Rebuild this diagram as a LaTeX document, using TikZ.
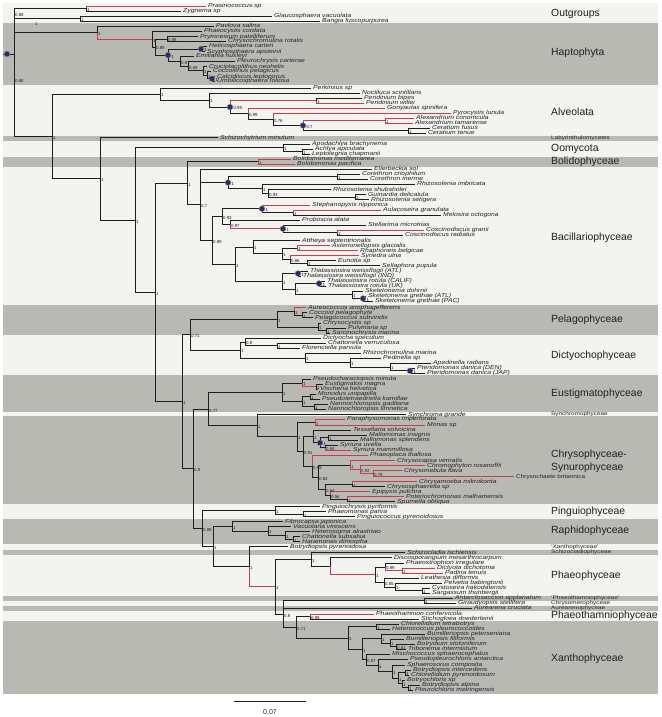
\documentclass[tikz,border=0pt]{standalone}
\usepackage{fontspec}
\setmainfont{Liberation Sans}
\usepackage{graphicx}
\usetikzlibrary{calc}
\definecolor{bglight}{RGB}{243,243,240}
\definecolor{bgdark}{RGB}{185,185,180}
\definecolor{brc}{RGB}{30,30,30}
\definecolor{redbr}{RGB}{200,62,78}
\definecolor{txt}{RGB}{35,35,35}
\definecolor{dotc}{RGB}{42,46,92}
\newcommand\nd[4]{\path let \p1=($(#3)!.5!(#4)$) in coordinate (#1) at (#2pt,\y1);}
\newcommand\Eb[2]{\draw[br] (#1) |- (#2);}
\newcommand\Rd[2]{\draw[rb] (#1) |- (#2);}
\newcommand\bn[4]{\nd{#1}{#2}{#3}{#4}\Eb{#1}{#3}\Eb{#1}{#4}}
\newcommand\lf[5][]{\node[leaf,#1] (#2) at ({#3-1.6},#4) {\scalebox{1}[0.85]{#5}};}
\begin{document}
\begin{tikzpicture}[x=1pt,y=-1pt,
 leaf/.style={anchor=west,inner xsep=1.6pt,inner ysep=0pt,text height=4pt,text depth=1pt,font=\fontsize{6.8}{6.8}\selectfont\itshape,text=txt},
 br/.style={draw=brc,line width=0.95pt},
 rb/.style={draw=redbr,line width=0.95pt},
 sv/.style={anchor=west,inner sep=0.3pt,font=\fontsize{4.4}{4.4}\selectfont,text=txt,yshift=-1.4pt,xshift=0.6pt},
 grp/.style={anchor=west,inner sep=0pt,font=\fontsize{10.4}{12.3}\selectfont,text=black!88},
 sgrp/.style={anchor=west,inner sep=0pt,font=\fontsize{6.4}{6.4}\selectfont,text=black!85},
 bdot/.style={circle,fill=dotc,draw=dotc!55,line width=0.4pt,inner sep=0pt,minimum size=5.8pt}]
\useasboundingbox (0,0) rectangle (661,717);
\fill[white] (0,0) rectangle (661,717);
\fill[bglight] (3,3) rectangle (658,694);
\foreach \a/\b in {23/85,136/141,157/167,305/335,375/412,416/504,519/544,549.5/555,596/601,606/611,621/694}
  \fill[bgdark] (3,\a) rectangle (658,\b);

% ---------- group labels
\node[grp] (gOut) at (551,14) {Outgroups};
\node[grp] (gHap) at (551,53.3) {Haptophyta};
\node[grp] (gAlv) at (551,111.7) {Alveolata};
\node[sgrp] (gLab) at (551,138.2) {\scalebox{1}[0.8]{Labyrinthulomycetes}};
\node[grp] (gOom) at (551,149) {Oomycota};
\node[grp] (gBol) at (551,161.7) {Bolidophyceae};
\node[grp] (gBac) at (551,237.5) {Bacillariophyceae};
\node[grp] (gPel) at (551,320) {Pelagophyceae};
\node[grp] (gDic) at (551,355.7) {Dictyochophyceae};
\node[grp] (gEus) at (551,394) {Eustigmatophyceae};
\node[sgrp] (gSyn) at (551,414.5) {\scalebox{1}[0.8]{Synchromophyceae}};
\node[grp,align=left] (gChr) at (551,461.2) {Chrysophyceae-\\Synurophyceae};
\node[grp] (gPin) at (551,511.7) {Pinguiophyceae};
\node[grp] (gRap) at (551,531) {Raphidophyceae};
\node[sgrp] (gXq) at (551,547.2) {\scalebox{1}[0.8]{`Xanthophyceae'}};
\node[sgrp] (gSch) at (551,552.5) {\scalebox{1}[0.8]{Schizocladiophyceae}};
\node[grp] (gPha) at (551,576) {Phaeophyceae};
\node[sgrp] (gPtq) at (551,598.5) {\scalebox{1}[0.8]{`Phaeothamniophyceae'}};
\node[sgrp] (gChm) at (551,603.5) {\scalebox{1}[0.8]{Chrysomerophyceae}};
\node[sgrp] (gAur) at (551,608.5) {\scalebox{1}[0.8]{Aurearenophyceae}};
\node[grp] (gPht) at (551,616) {Phaeothamniophyceae};
\node[grp] (gXan) at (551,659) {Xanthophyceae};

% ---------- leaves
\lf{prasino}{208}{6}{Prasinococcus sp}
\lf{zygnema}{183}{11}{Zygnema sp}
\lf{glauco}{274}{16}{Glaucosphaera vacuolata}
\lf{bangia}{322}{21}{Bangia fuscopurpurea}
\lf{pavlova}{216}{26}{Pavlova salina}
\lf{phaeoc}{204}{31.5}{Phaeocystis cordata}
\lf{prymne}{200}{36.5}{Prymnesium patelliferum}
\lf{chryso}{228}{41.5}{Chrysochromulina rotalis}
\lf{helico}{209}{46.5}{Helicosphaera carteri}
\lf{scypho}{207}{51.5}{Scyphosphaera apsteinii}
\lf{emilia}{196}{56.5}{Emiliania huxleyi}
\lf{pleuro}{237}{61.5}{Pleurochrysis carterae}
\lf{crucip}{209}{66.5}{Cruciplacolithus neohelis}
\lf{coccol}{213}{71.5}{Coccolithus pelagicus}
\lf{calcid}{217}{76.5}{Calcidiscus leptoporus}
\lf{umbil}{217}{81}{Umbilicosphaera foliosa}
\lf{perk}{313}{88}{Perkinsus sp}
\lf{noct}{362}{93}{Noctiluca scintillans}
\lf{pbipes}{364}{98}{Peridinium bipes}
\lf{pwillei}{366}{103}{Peridinium willei}
\lf{gony}{387}{108}{Gonyaulax spinifera}
\lf{pyro}{453}{113}{Pyrocystis lunula}
\lf{alexc}{416}{118}{Alexandrium conorticula}
\lf{alext}{415}{123}{Alexandrium tamarense}
\lf{cerf}{432}{128}{Ceratium fusus}
\lf{cert}{428}{133}{Ceratium tenue}
\lf{schizo}{220}{137.7}{Schizochytrium minutum}
\lf{apodach}{312}{144}{Apodachlya brachynema}
\lf{achlya}{315}{149}{Achlya apiculata}
\lf{lepto}{312}{154}{Leptolegnia chapmanii}
\lf{bmed}{293}{159}{Bolidomonas mediterranea}
\lf{bpac}{297}{164.3}{Bolidomonas pacifica}
\lf{ellerb}{374}{169}{Ellerbeckia sol}
\lf{corcrio}{362}{174}{Corethron criophilum}
\lf{corin}{370}{179}{Corethron inerme}
\lf{rhimb}{417}{184}{Rhizosolenia imbricata}
\lf{rhshub}{333}{189.5}{Rhizosolenia shubsholei}
\lf{guin}{368}{194.5}{Guinardia delicatula}
\lf{rhset}{371}{199.5}{Rhizosolenia setigera}
\lf{steph}{312}{205}{Stephanopyxis nipponica}
\lf{aulac}{383}{210}{Aulacoseira granulata}
\lf{melos}{443}{215}{Melosira octogona}
\lf{probos}{302}{220}{Proboscia alata}
\lf{stell}{368}{225}{Stellarima microtrias}
\lf{cosgr}{426}{230}{Coscinodiscus granii}
\lf{cosrad}{405}{235}{Coscinodiscus radiatus}
\lf{atth}{302}{240.5}{Attheya septentrionalis}
\lf{aster}{332}{245.5}{Asterionellopsis glacialis}
\lf{rhaph}{360}{250.5}{Rhaphoneis belgicae}
\lf{syned}{361}{255.5}{Synedra ulna}
\lf{eunot}{338}{260.5}{Eunotia sp}
\lf{sella}{382}{265.5}{Sellaphora pupula}
\lf{thwa}{310}{271}{Thalassiosira weissflogii (ATL)}
\lf{thwi}{303}{276}{Thalassiosira weissflogii (IND)}
\lf{thrc}{327}{281}{Thalassiosira rotula (CALIF)}
\lf{thru}{328}{286}{Thalassiosira rotula (UK)}
\lf{skd}{365}{291}{Skeletonema dohrnii}
\lf{skga}{368}{296}{Skeletonema grethae (ATL)}
\lf{skgp}{375}{301}{Skeletonema grethae (PAC)}
\lf{aureo}{308}{307.7}{Aureococcus anophagefferens}
\lf{coccoid}{309}{312.7}{Coccoid pelagophyte}
\lf{pelagoc}{315}{317.7}{Pelagococcus subviridis}
\lf{chrysocy}{323}{323.3}{Chrysocystis sp}
\lf{pulvin}{348}{328.3}{Pulvinaria sp}
\lf{sarcin}{332}{333.3}{Sarcinochrysis marina}
\lf{dicty}{323}{338.3}{Dictyocha speculum}
\lf{chatv}{328}{343.3}{Chattonella verruculosa}
\lf{floren}{302}{348.3}{Florenciella parvula}
\lf{rhizoch}{363}{353.3}{Rhizochromulina marina}
\lf{pedin}{383}{358.3}{Pedinella sp}
\lf{apedin}{433}{363.3}{Apedinella radians}
\lf{pterd}{417}{368.3}{Pteridomonas danica (DEN)}
\lf{pterj}{427}{373.3}{Pteridomonas danica (JAP)}
\lf{pseudoch}{313}{379.3}{Pseudocharaciopsis minuta}
\lf{eustm}{325}{384.3}{Eustigmatos magna}
\lf{vischer}{320}{389.3}{Vischeria helvetica}
\lf{monodus}{318}{394.3}{Monodus unipapilla}
\lf{pseudot}{322}{399.3}{Pseudotetraedriella kamillae}
\lf{nannog}{330}{404.3}{Nannochloropsis gaditana}
\lf{nannol}{328}{409.3}{Nannochloropsis limnetica}
\lf{synchroma}{408}{414.7}{Synchroma grande}
\lf{paraph}{347}{419.3}{Paraphysomonas imperforata}
\lf{monas}{427}{425}{Monas sp}
\lf{tessel}{353}{430}{Tessellaria volvocina}
\lf{malins}{369}{435.3}{Mallomonas insignis}
\lf{malspl}{360}{440.3}{Mallomonas splendens}
\lf{synuv}{340}{445.3}{Synura uvella}
\lf{synmam}{353}{450.3}{Synura mammillosa}
\lf{phaeop}{370}{455.3}{Phaeoplaca thallosa}
\lf{chrysoc}{397}{460.7}{Chrysocapsa vernalis}
\lf{chromo}{427}{465.7}{Chromophyton rosanoffii}
\lf{chrysoneb}{404}{470.7}{Chrysonebula flava}
\lf[font=\fontsize{6.4}{6.4}\selectfont\upshape]{chrysoch}{516}{476.7}{Chrysochaete britannica}
\lf{chrysam}{419}{481.7}{Chrysamoeba mikrokonta}
\lf{chrysosph}{387}{486.7}{Chrysosphaerella sp}
\lf{epipyx}{372}{491.7}{Epipyxis pulchra}
\lf{poterio}{406}{496.7}{Poteriochromonas malhamensis}
\lf{spumella}{397}{501.7}{Spumella obliqua}
\lf{pingch}{322}{506.7}{Pinguiochrysis pyriformis}
\lf{phaeom}{328}{511.7}{Phaeomonas parva}
\lf{pingco}{357}{516.7}{Pinguiococcus pyrenoidosus}
\lf{fibro}{285}{521.7}{Fibrocapsa japonica}
\lf{vacuol}{293}{526.7}{Vacuolaria virescens}
\lf{heteros}{312}{531.7}{Heterosigma akashiwo}
\lf{chatts}{302}{536.7}{Chattonella subsalsa}
\lf{haram}{302}{541.7}{Haramonas dimorpha}
\lf{botryp}{290}{546.7}{Botrydiopsis pyrenoidosa}
\lf{schizc}{407}{552.5}{Schizocladia ischiensis}
\lf{discos}{394}{557.7}{Discosporangium mesarthrocarpum}
\lf{phaeost}{406}{563.3}{Phaeostrophion irregulare}
\lf{dictyota}{437}{568.3}{Dictyota dichotoma}
\lf{padina}{445}{573}{Padina tenuis}
\lf{leathes}{421}{578.3}{Leathesia difformis}
\lf{pelvet}{444}{583.3}{Pelvetia babingtonii}
\lf{cystos}{432}{588.3}{Cystoseira hakodatensis}
\lf{sargas}{432}{593.3}{Sargassum thunbergii}
\lf{antarc}{455}{598.3}{Antarctosaccion applanatum}
\lf{giraud}{458}{603.3}{Giraudyopsis stellifera}
\lf{aurear}{474}{608.3}{Aurearena cruciata}
\lf{phaeoth}{376}{614.3}{Phaeothamnion confervicola}
\lf{sticho}{421}{619.3}{Stichogloea doederleinii}
\lf{chlorte}{401}{624.3}{Chlorellidium tetrabotrys}
\lf{heteroc}{392}{629.3}{Heterococcus pleurococcoides}
\lf{bumpet}{427}{634.3}{Bumilleriopsis peterseniana}
\lf{bumfil}{406}{639.3}{Bumilleriopsis filiformis}
\lf{botryd}{417}{644.3}{Botrydium stoloniferum}
\lf{tribon}{408}{649.3}{Tribonema intermixtum}
\lf{mischo}{392}{654.3}{Mischococcus sphaerocephalus}
\lf{pseudop}{410}{659.3}{Pseudopleurochloris antarctica}
\lf{sphaer}{407}{665}{Sphaerosorus composita}
\lf{botint}{413}{670}{Botrydiopsis intercedens}
\lf{chlpyr}{411}{675}{Chlorellidium pyrenoidosum}
\lf{botryo}{407}{680}{Botryochloris sp}
\lf{botalp}{422}{685}{Botrydiopsis alpina}
\lf{pleuroc}{415}{690}{Pleurochloris meiringensis}

% ---------- tree
\bn{PZ}{86}{prasino}{zygnema} \Rd{PZ}{prasino}
\bn{GB}{80}{glauco}{bangia}
\bn{OUT}{14}{PZ}{GB}
\bn{hK}{212}{calcid}{umbil}
\bn{hJ}{207}{coccol}{hK}
\bn{hI}{203}{crucip}{hJ}
\bn{hH}{188}{pleuro}{hI}
\bn{hG}{180}{emilia}{hH}
\bn{hF}{201}{helico}{scypho}
\bn{hC}{168}{hF}{hG}
\bn{hD}{167}{prymne}{chryso}
\bn{hE}{155}{hD}{hC}
\bn{hB}{152}{phaeoc}{hE}
\bn{hA}{97}{pavlova}{hB} \Rd{hA}{hB}
\bn{aPeri}{316}{pbipes}{pwillei} \Rd{aPeri}{pwillei}
\bn{aAlex}{385}{alexc}{alext} \Rd{aAlex}{alexc}\Rd{aAlex}{alext}
\bn{aCer}{408}{cerf}{cert}
\bn{aS}{303}{aAlex}{aCer} \Rd{aS}{aAlex}
\bn{aR}{273}{pyro}{aS} \Rd{aR}{pyro}
\bn{aQ}{248}{gony}{aR} \Rd{aQ}{gony}
\bn{aP}{230}{aPeri}{aQ} \Rd{aP}{aPeri}
\bn{aDino}{209}{noct}{aP}
\bn{aAlv}{160}{perk}{aDino}
\bn{oAL}{302}{achlya}{lepto}
\bn{oOom}{283}{apodach}{oAL}
\bn{bB}{258}{bmed}{bpac} \Rd{bB}{bmed}\Rd{bB}{bpac}
\bn{dCor}{337}{corcrio}{corin}
\bn{dGS}{355}{guin}{rhset}
\bn{dRS}{268}{rhshub}{dGS}
\bn{dR2}{262}{rhimb}{dRS}
\bn{dC}{228}{dCor}{dR2}
\bn{dAM}{293}{aulac}{melos} \Rd{dAM}{aulac}
\bn{dSAM}{262}{steph}{dAM} \Rd{dSAM}{steph}
\bn{dCos}{337}{cosgr}{cosrad} \Rd{dCos}{cosgr}
\bn{dCosc}{283}{stell}{dCos}
\bn{dP230}{230}{probos}{dCosc} \Rd{dP230}{dCosc}
\bn{dP222}{222}{dSAM}{dP230}
\bn{dAR}{297}{aster}{rhaph} \Rd{dAR}{aster}\Rd{dAR}{rhaph}
\bn{dES}{307}{eunot}{sella}
\bn{dP290}{290}{syned}{dES} \Rd{dP290}{syned}
\bn{dP282}{282}{dAR}{dP290}
\bn{dPen}{253}{atth}{dP282}
\bn{dW}{298}{thwa}{thwi}
\bn{dRot}{319}{thrc}{thru}
\bn{dG}{363}{skga}{skgp}
\bn{dSk}{352}{skd}{dG}
\bn{dT2}{295}{dRot}{dSk}
\bn{dT}{282}{dW}{dT2}
\bn{dD2}{235}{dPen}{dT}
\bn{dD1}{212}{dP222}{dD2}
\bn{dD0}{200}{ellerb}{dD1} \Eb{dD0}{dC}
\bn{dBD}{187}{bB}{dD0}
\bn{pA2}{302}{coccoid}{pelagoc}
\bn{pA1}{294}{aureo}{pA2} \Rd{pA1}{aureo}
\bn{pC2}{326}{pulvin}{sarcin}
\bn{pC1}{318}{chrysocy}{pC2}
\bn{pPel}{277}{pA1}{pC1}
\bn{xCF}{277}{chatv}{floren}
\bn{xDic}{245}{dicty}{xCF}
\bn{xPt}{410}{pterd}{pterj}
\bn{xAp}{390}{apedin}{xPt}
\bn{xPed}{350}{pedin}{xAp}
\bn{xRhz}{305}{rhizoch}{xPed}
\bn{xD}{240}{xDic}{xRhz}
\bn{xPD}{190}{pPel}{xD}
\bn{eE2}{316}{eustm}{vischer}
\bn{eE1}{302}{pseudoch}{eE2} \Rd{eE1}{eE2}
\bn{eM1}{310}{monodus}{pseudot}
\bn{eN}{314}{nannog}{nannol}
\bn{eM0}{302}{eM1}{eN}
\bn{eEus}{282}{eE1}{eM0}
\bn{cPara}{315}{paraph}{monas} \Rd{cPara}{paraph}\Rd{cPara}{monas}
\bn{cMal}{328}{malins}{malspl}
\bn{cSyn}{325}{synuv}{synmam} \Rd{cSyn}{synmam}
\bn{cSyn2}{320}{cMal}{cSyn}
\bn{cSynA}{313}{tessel}{cSyn2}
\bn{cC6c}{373}{chrysoneb}{chrysoch} \Rd{cC6c}{chrysoneb}\Rd{cC6c}{chrysoch}
\bn{cC6b}{360}{chromo}{cC6c} \Rd{cC6b}{chromo}\Rd{cC6b}{cC6c}
\bn{cC6}{350}{chrysoc}{cC6b} \Rd{cC6}{chrysoc}\Rd{cC6}{cC6b}
\bn{cC7a}{352}{chrysam}{chrysosph} \Rd{cC7a}{chrysam}
\bn{cC9}{347}{poterio}{spumella} \Rd{cC9}{poterio}
\bn{cC8}{330}{epipyx}{cC9} \Rd{cC8}{epipyx}
\bn{cC7}{325}{cC7a}{cC8}
\bn{cC5}{318}{cC6}{cC7}
\bn{cC4}{312}{phaeop}{cC5} \Rd{cC4}{phaeop}
\bn{cC3}{303}{cSynA}{cC4}
\bn{cChr}{297}{cPara}{cC3}
\bn{cS257}{257}{synchroma}{cChr}
\bn{eN208}{208}{eEus}{cS257}
\bn{gPh}{303}{phaeom}{pingco}
\bn{gPing}{275}{pingch}{gPh}
\bn{rR4}{293}{chatts}{haram}
\bn{rR3}{285}{heteros}{rR4}
\bn{rR2}{268}{vacuol}{rR3}
\bn{rRaph}{232}{fibro}{rR2}
\bn{fDP}{402}{dictyota}{padina} \Rd{fDP}{dictyota}\Rd{fDP}{padina}
\bn{fPH3}{385}{phaeost}{fDP} \Rd{fPH3}{fDP}
\bn{fCS}{422}{cystos}{sargas}
\bn{fPH5}{395}{pelvet}{fCS}
\bn{fPH4}{384}{leathes}{fPH5}
\bn{fPH2}{375}{fPH3}{fPH4}
\bn{fPH}{330}{discos}{fPH2} \Rd{fPH}{fPH2}
\bn{fPhc}{311}{schizc}{fPH}
\bn{fAG}{424}{antarc}{giraud}
\bn{fPT}{310}{phaeoth}{sticho} \Rd{fPT}{phaeoth}
\bn{xCH}{376}{chlorte}{heteroc}
\bn{xB3}{396}{botryd}{tribon}
\bn{xB2}{390}{bumfil}{xB3}
\bn{xB1}{381}{bumpet}{xB2}
\bn{xM7}{408}{botalp}{pleuroc}
\bn{xM6}{402}{botryo}{xM7}
\bn{xM5}{405}{botint}{chlpyr}
\bn{xM4}{398}{xM5}{xM6}
\bn{xM3}{392}{sphaer}{xM4}
\bn{xM2}{378}{pseudop}{xM3}
\bn{xM1}{366}{mischo}{xM2}
\bn{xX2}{362}{xB1}{xM1}
\bn{xX1}{348}{xCH}{xX2}
\bn{fN296}{296}{fPT}{xX1}
\bn{fN283}{283}{fAG}{fN296} \Eb{fN283}{aurear}
\bn{fPX2}{275}{fPhc}{fN283}
\bn{fPX}{249}{botryp}{fPX2} \Rd{fPX}{fPX2}
\bn{rN213}{213}{rRaph}{fPX}
\bn{gN203}{202}{gPing}{rN213}
\bn{N193}{193}{eN208}{gN203}
\bn{N182}{182}{xPD}{N193}
\bn{N155}{155}{dBD}{N182}
\bn{N135}{135}{oOom}{N155}
\bn{N100}{100}{schizo}{N135}
\bn{N52}{52}{aAlv}{N100}
\Eb{OUT}{hA}
\Eb{OUT}{N52}
\coordinate (r0) at (3,54);
\coordinate (r1) at (14,54);
\draw[br] (r0) -- (r1);

% ---------- dots
\node[bdot] (rootdot) at (7,54) {};
\foreach \n in {hF,hC,hK,aP,aS,dC,dSAM,dCosc,dW,dRot,dG,xPt,cSyn2}
  \node[bdot] (dot\n) at (\n) {};

% ---------- support values
\foreach \n/\t in {OUT/0.88,PZ/1,GB/1,hA/1,hB/1,hE/0.89,hD/0.98,hG/0.87,hH/0.59,hI/1,hJ/1,
 aAlv/1,aDino/1,aQ/0.99,aR/0.76,aPeri/1,aAlex/1,aCer/1,N52/1,N100/1,N135/1,N155/1,oOom/1,oAL/1,bB/1,
 dBD/1,dD0/0.7,dCor/1,dR2/1,dRS/0.93,dGS/1,dD1/0.89,dP222/0.93,dAM/1,dP230/0.97,dCos/1,dD2/1,
 dPen/1,dP282/1,dAR/1,dP290/0.86,dES/1,dT/1,dT2/1,dSk/1,N182/1,xPD/0.71,pPel/1,pA1/1,pA2/1,
 pC1/1,pC2/1,xD/1,xDic/0.8,xCF/1,xRhz/1,xPed/1,xAp/1,N193/0.9,eN208/0.77,eEus/1,eE1/1,eE2/1,
 eM0/1,eM1/1,eN/1,cS257/1,cPara/1,cChr/1,cC3/0.91,cSynA/1,cMal/1,cSyn/0.94,cC4/0.99,cC5/0.84,
 cC6/1,cC6b/0.92,cC6c/0.79,cC7/0.64,cC7a/1,cC8/0.56,cC9/1,gN203/0.88,gPing/1,gPh/1,rN213/1,
 rRaph/1,rR2/1,rR3/1,rR4/1,fPX/1,fPX2/1,fPhc/1,fPH2/1,fPH3/0.99,fDP/1,fPH4/0.85,fPH5/1,fCS/1,
 fN283/0.8,fAG/1,fN296/0.71,fPT/0.98,xX1/1,xCH/1,xX2/1,xB1/1,xB2/1,xB3/0.81,xM1/0.87,xM2/1,
 xM3/1,xM4/1,xM5/1,xM6/1,xM7/1}
  \node[sv] (s\n) at (\n) {\t};
\foreach \n/\t in {hF/1,hC/1,hK/1,aP/0.99,aS/0.7,dC/1,dSAM/1,dCosc/1,dW/1,dRot/1,dG/1,xPt/1,cSyn2/1}
  \node[sv,xshift=2.4pt] (s\n) at (\n) {\t};
\node[sv] (sx1) at (14,80) {0.88};
\node[sv] (sx2) at (34,23) {1};

% ---------- scale bar
\coordinate (sb1) at (234,701.5);
\coordinate (sb2) at (306,701.5);
\draw[br,line width=0.9pt] (sb1) -- (sb2);
\node[font=\fontsize{7}{7}\selectfont,text=txt] (sbl) at (270,712) {0.07};
\end{tikzpicture}
\end{document}
